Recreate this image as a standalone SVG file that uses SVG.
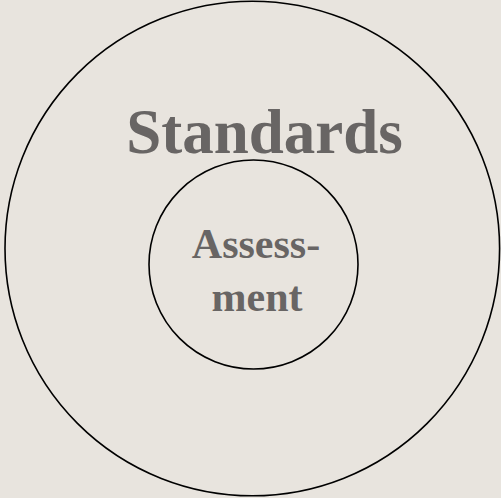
<svg xmlns="http://www.w3.org/2000/svg" width="501" height="498" viewBox="0 0 501 498">
<style>
.ring{fill:none;stroke:#000;stroke-width:1.6}
.lbl{font-family:"Liberation Serif","Times New Roman",serif;font-weight:bold;fill:#686564;text-anchor:middle}
</style>
<rect width="501" height="498" fill="#e8e4de"/>
<g id="standards">
<circle class="ring" cx="252.3" cy="248.5" r="247.3"/>
<text class="lbl" x="264.5" y="153" font-size="63">Standards</text>
</g>
<g id="assessment">
<circle class="ring" cx="253.5" cy="264.5" r="104.5"/>
<text class="lbl" x="256" y="258" font-size="42">Assess-</text>
<text class="lbl" x="257" y="311" font-size="42">ment</text>
</g>
<g id="connectors"/>
</svg>
